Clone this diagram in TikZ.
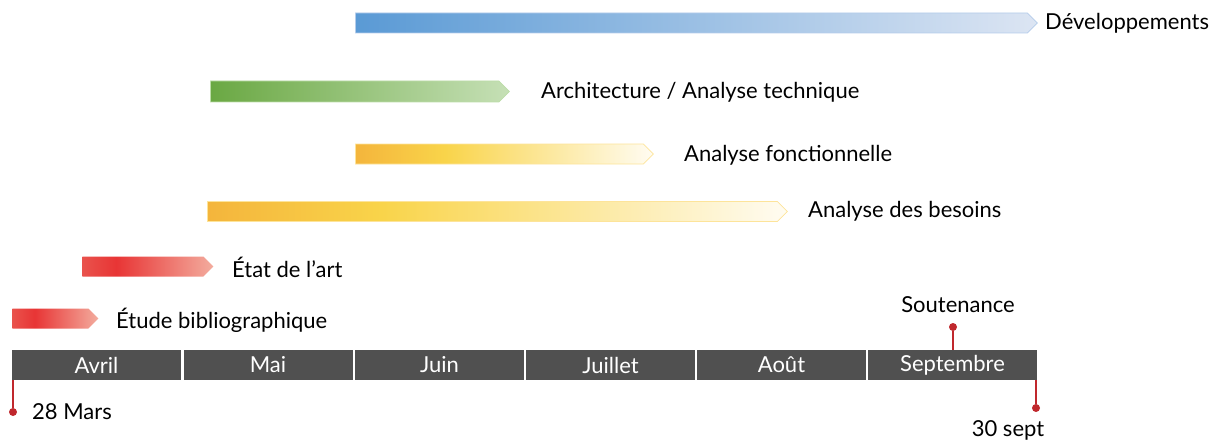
\documentclass[tikz,border=0pt]{standalone}
\usepackage{fontspec}
\setmainfont{Lato}
\usetikzlibrary{shapes.symbols}
\definecolor{moisgris}{HTML}{505050}
\definecolor{jalon}{HTML}{C0282D}
\definecolor{rougeA}{HTML}{E9524C}
\definecolor{rougeB}{HTML}{E83535}
\definecolor{rougeC}{HTML}{F3AC9E}
\definecolor{jauneA}{HTML}{F4B53C}
\definecolor{jauneB}{HTML}{F9D44A}
\definecolor{jauneC}{HTML}{FFFCF2}
\definecolor{jauneT}{HTML}{FDE49A}
\definecolor{vertA}{HTML}{6AA843}
\definecolor{vertC}{HTML}{C6E0B6}
\definecolor{vertT}{HTML}{BCDCA8}
\definecolor{bleuA}{HTML}{5A9AD5}
\definecolor{bleuC}{HTML}{DCE5F3}
\definecolor{bleuT}{HTML}{B4CCEA}
\pgfdeclarehorizontalshading{rougebar}{100bp}{color(0bp)=(rougeA); color(25bp)=(rougeA); color(38bp)=(rougeB); color(75bp)=(rougeC); color(100bp)=(rougeC)}
\pgfdeclarehorizontalshading{jaunebar}{100bp}{color(0bp)=(jauneA); color(25bp)=(jauneA); color(40bp)=(jauneB); color(75bp)=(jauneC); color(100bp)=(jauneC)}
\pgfdeclarehorizontalshading{vertbar}{100bp}{color(0bp)=(vertA); color(25bp)=(vertA); color(75bp)=(vertC); color(100bp)=(vertC)}
\pgfdeclarehorizontalshading{bleubar}{100bp}{color(0bp)=(bleuA); color(25bp)=(bleuA); color(75bp)=(bleuC); color(100bp)=(bleuC)}

\begin{document}
\begin{tikzpicture}[x=1pt,y=-1pt,
  every node/.style={inner sep=0pt,font=\fontsize{22}{26}\selectfont},
  barre/.style={signal,signal to=east,signal pointer angle=90,minimum height=20pt,anchor=west,line width=0.8pt},
  mois/.style={fill=moisgris,text=white,minimum width=169pt,minimum height=30pt},
  etiq/.style={anchor=west},
  jalonpt/.style={circle,fill=jalon,minimum size=8pt},
  jalonligne/.style={draw=jalon,line width=2pt}]
\useasboundingbox (0,0) rectangle (1220,441);
\node[barre,shading=bleubar,draw=bleuT,minimum width=682pt] (dev) at (355,23) {};
\node[etiq] (devtxt) at (1045,23) {Développements};
\node[barre,shading=vertbar,draw=vertT,minimum width=299pt,minimum height=21pt] (archi) at (210,91.5) {};
\node[etiq] (architxt) at (541,92) {Architecture / Analyse technique};
\node[barre,shading=jaunebar,draw=jauneT,minimum width=298pt] (fonct) at (355,154) {};
\node[etiq] (foncttxt) at (684,155) {Analyse fonctionnelle};
\node[barre,shading=jaunebar,draw=jauneT,minimum width=580pt] (besoins) at (207,211.5) {};
\node[etiq] (besoinstxt) at (808,211) {Analyse des besoins};
\node[barre,shading=rougebar,minimum width=131pt] (etat) at (82,266.5) {};
\node[etiq] (etattxt) at (232,267) {État de l’art};
\node[barre,shading=rougebar,minimum width=86pt] (etude) at (12,318.5) {};
\node[etiq] (etudetxt) at (116,320) {Étude bibliographique};
\node[mois] (avril) at (96.5,365) {Avril};
\node[mois] (mai) at (268,365) {Mai};
\node[mois] (juin) at (439.5,365) {Juin};
\node[mois] (juillet) at (610.5,365) {Juillet};
\node[mois] (aout) at (781.5,365) {Août};
\node[mois] (septembre) at (952.5,365) {Septembre};
\node[jalonpt] (debut) at (13,412) {};
\draw[jalonligne] (debut) -- (debut |- avril.south);
\node[etiq] (debuttxt) at (32,412) {28 Mars};
\node[jalonpt] (sout) at (953,327) {};
\draw[jalonligne] (sout) -- (sout |- septembre.north);
\node (souttxt) at (958,305) {Soutenance};
\node[jalonpt] (fin) at (1036,408) {};
\draw[jalonligne] (fin) -- (fin |- septembre.south);
\node (fintxt) at (1008,430) {30 sept};
\end{tikzpicture}
\end{document}
